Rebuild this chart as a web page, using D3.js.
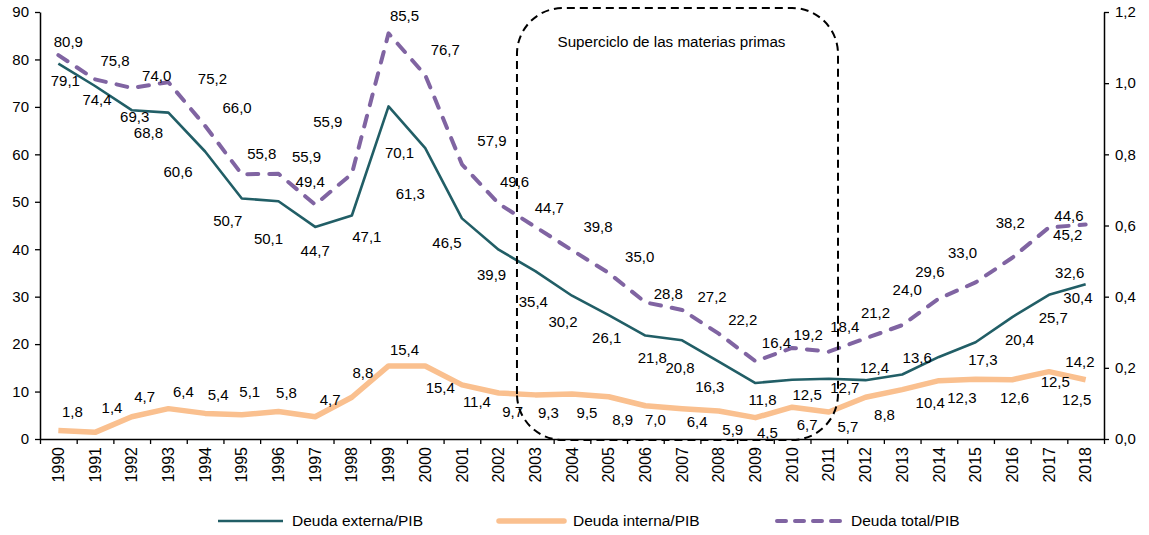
<!DOCTYPE html>
<html><head><meta charset="utf-8">
<script src="https://cdn.jsdelivr.net/npm/d3@7"></script>
<style>
body{margin:0;background:#fff;}
text{font-family:"Liberation Sans",Arial,sans-serif;fill:#000;}
</style>
</head><body>
<svg id="c" width="1149" height="535"></svg>
<script>
const years = ["1990","1991","1992","1993","1994","1995","1996","1997","1998","1999","2000","2001","2002","2003","2004","2005","2006","2007","2008","2009","2010","2011","2012","2013","2014","2015","2016","2017","2018"];
const deudaExterna = [79.1,74.4,69.3,68.8,60.6,50.7,50.1,44.7,47.1,70.1,61.3,46.5,39.9,35.4,30.2,26.1,21.8,20.8,16.3,11.8,12.5,12.7,12.4,13.6,17.3,20.4,25.7,30.4,32.6];
const deudaInterna = [1.8,1.4,4.7,6.4,5.4,5.1,5.8,4.7,8.8,15.4,15.4,11.4,9.7,9.3,9.5,8.9,7.0,6.4,5.9,4.5,6.7,5.7,8.8,10.4,12.3,12.6,12.5,14.2,12.5];
const deudaTotal = [80.9,75.8,74.0,75.2,66.0,55.8,55.9,49.4,55.9,85.5,76.7,57.9,49.6,44.7,39.8,35.0,28.8,27.2,22.2,16.4,19.2,18.4,21.2,24.0,29.6,33.0,38.2,44.6,45.2];
const leftTicks = [0,10,20,30,40,50,60,70,80,90];
const rightTicks = [0,0.2,0.4,0.6,0.8,1.0,1.2];
const seriesNames = ["Deuda externa/PIB","Deuda interna/PIB","Deuda total/PIB"];
const annotationText = "Superciclo de las materias primas";
const periodStart = "2003", periodEnd = "2011";

// label placement nudges (px) relative to each point
const extLabelNudge = [[7,17],[2,14],[3,7],[-20,20],[-27,20],[-14,22],[-10,37],[0,24],[15,21],[11,46],[-15,46],[-15,24],[-7,25],[-2,31],[-9,26],[-2,23],[7,22],[-2,27],[-9,25],[7,17],[15,15],[16,9],[9,-12],[15,-17],[44,3],[44,-2],[41,1],[29,3],[-16,-12]];
const totLabelNudge = [[10,-13],[20,-19],[25,-12],[44,-3],[32,-18],[20,-21],[28,-17],[-5,-23],[-24,-52],[16,-18],[20,-25],[30,-24],[16,-22],[14,-19],[26,-23],[31,-16],[23,-9],[30,-13],[24,-14],[21,-18],[16,-13],[16,-25],[10,-26],[5,-35],[-9,-27],[-13,-30],[-2,-35],[20,-12],[-18,10]];
const intLabelNudge = [[14,-19],[17,-25],[13,-20],[15,-17],[13,-19],[8,-23],[8,-19],[15,-17],[11,-24],[16,-16],[15,22],[15,17],[14,19],[13,18],[15,19],[14,23],[10,14],[15,13],[14,19],[12,15],[15,18],[19,15],[19,18],[28,13],[23,17],[39,19],[43,2],[31,-10],[-9,20]];

const colors = {ext:"#215e66", int:"#fac08f", tot:"#8064a2"};
const fmt1 = v => d3.format(".1f")(v).replace(".", ",");

const svg = d3.select("#c");
const L = 40, R = 1104, T = 12, B = 439;
const x = d3.scaleBand().domain(years).range([L, R]).padding(0);
const bw = x.bandwidth();
const xb = d3.scaleLinear().domain([0, years.length]).range([L, R]);
const y = d3.scaleLinear().domain([0, 90]).range([B, T]);
const yR = d3.scaleLinear().domain([0, 1.2]).range([B, T]);
const cx = i => x(years[i]) + bw / 2;

// axes
const gl = svg.append("g").attr("transform", `translate(${L},0)`)
  .call(d3.axisLeft(y).tickValues(leftTicks).tickSize(5).tickSizeOuter(0).tickPadding(6).tickFormat(d3.format("d")));
const gr = svg.append("g").attr("transform", `translate(${R},0)`)
  .call(d3.axisRight(yR).tickValues(rightTicks).tickSize(5).tickSizeOuter(0).tickPadding(6).tickFormat(fmt1));
const gxTicks = svg.append("g").attr("transform", `translate(0,${B})`)
  .call(d3.axisBottom(xb).tickValues(d3.range(years.length + 1)).tickSize(5).tickSizeOuter(0).tickFormat(""));
const gx = svg.append("g").attr("transform", `translate(0,${B})`)
  .call(d3.axisBottom(x).tickSize(0).tickSizeOuter(0));
gx.select(".domain").remove();
[gl, gr, gxTicks, gx].forEach(g => {
  g.selectAll(".domain").attr("stroke", "#000").attr("stroke-width", 1.5);
  g.selectAll(".tick line").attr("stroke", "#000").attr("stroke-width", 1.3);
  g.selectAll("text").attr("font-size", 15).attr("font-family", "Liberation Sans, Arial, sans-serif").attr("fill", "#000");
});
gx.selectAll("text").attr("transform", "rotate(-90)").attr("text-anchor", "end")
  .attr("x", -8).attr("y", 0).attr("dy", "0.35em").attr("font-size", 16);

// lines
const line = d3.line().x((d, i) => cx(i)).y(d => y(d));
svg.append("path").datum(deudaInterna).attr("d", line).attr("fill", "none")
  .attr("stroke", colors.int).attr("stroke-width", 5.5).attr("stroke-linejoin", "round");
svg.append("path").datum(deudaExterna).attr("d", line).attr("fill", "none")
  .attr("stroke", colors.ext).attr("stroke-width", 2.6).attr("stroke-linejoin", "round");
svg.append("path").datum(deudaTotal).attr("d", line).attr("fill", "none")
  .attr("stroke", colors.tot).attr("stroke-width", 4).attr("stroke-dasharray", "11,11")
  .attr("stroke-linecap", "round").attr("stroke-linejoin", "round");

// labels
function labels(data, nudge) {
  svg.append("g").selectAll("text").data(data).join("text")
    .attr("x", (d, i) => cx(i) + nudge[i][0])
    .attr("y", (d, i) => y(d) + nudge[i][1])
    .attr("text-anchor", "middle").attr("dy", "0.35em").attr("font-size", 15)
    .text(d => fmt1(d));
}
labels(deudaExterna, extLabelNudge);
labels(deudaTotal, totLabelNudge);
labels(deudaInterna, intLabelNudge);

// annotation box
const bx0 = x(periodStart), bx1 = x(periodEnd) + bw * 0.75;
const by0 = 8, by1 = B + 1, rr = 46;
const p = d3.path();
p.moveTo(bx0, by1 - rr);
p.lineTo(bx0, by0 + rr);
p.arcTo(bx0, by0, bx0 + rr, by0, rr);
p.lineTo(bx1 - rr, by0);
p.arcTo(bx1, by0, bx1, by0 + rr, rr);
p.lineTo(bx1, by1 - rr);
p.arcTo(bx1, by1, bx1 - rr, by1, rr);
p.lineTo(bx0 + rr, by1);
p.arcTo(bx0, by1, bx0, by1 - rr, rr);
p.closePath();
svg.append("path").attr("d", p.toString()).attr("fill", "none").attr("stroke", "#000")
  .attr("stroke-width", 2).attr("stroke-dasharray", "8,5");
svg.append("text").attr("x", (bx0 + bx1) / 2 - 6).attr("y", 42).attr("text-anchor", "middle")
  .attr("dy", "0.35em").attr("font-size", 15.2).text(annotationText);

// legend
const legY = 521;
const leg = [
  {name: seriesNames[0], x: 216, color: colors.ext, w: 2.6, dash: null, cap: "butt"},
  {name: seriesNames[1], x: 497, color: colors.int, w: 5.5, dash: null, cap: "round"},
  {name: seriesNames[2], x: 775, color: colors.tot, w: 4, dash: "9,9", cap: "round"}
];
const lg = svg.append("g").selectAll("g").data(leg).join("g");
lg.append("line").attr("x1", d => d.x + 2).attr("x2", d => d.x + 67).attr("y1", legY).attr("y2", legY)
  .attr("stroke", d => d.color).attr("stroke-width", d => d.w)
  .attr("stroke-dasharray", d => d.dash).attr("stroke-linecap", d => d.cap);
lg.append("text").attr("x", d => d.x + 76).attr("y", legY).attr("dy", "0.35em")
  .attr("font-size", 15.5).text(d => d.name);
</script>
</body></html>
